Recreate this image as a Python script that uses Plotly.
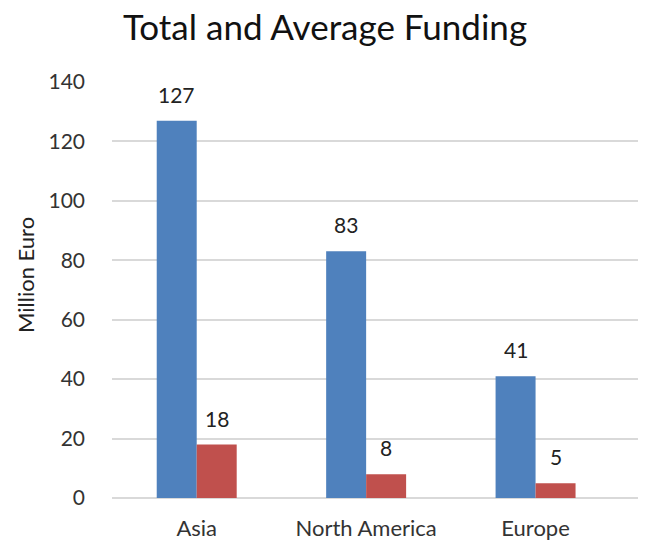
import plotly.graph_objects as go

categories = ["Asia", "North America", "Europe"]
total_funding = [127, 83, 41]
average_funding = [18, 8, 5]
y_ticks = [0, 20, 40, 60, 80, 100, 120, 140]

FONT = "Lato"
W, H = 646, 540
ML, MR, MT, MB = 104, 10, 74, 50

fig = go.Figure()
fig.add_trace(go.Bar(x=categories, y=total_funding, name="Total", marker_color="#4F81BD",
                     marker_line_width=0))
fig.add_trace(go.Bar(x=categories, y=average_funding, name="Average", marker_color="#C0504D",
                     marker_line_width=0))

annotations = []
for i, c in enumerate(categories):
    for j, vals in enumerate([total_funding, average_funding]):
        annotations.append(dict(x=c, y=vals[i], xref="x", yref="y", text=str(vals[i]),
                                showarrow=False, yanchor="bottom", yshift=12,
                                xshift=(-20 if j == 0 else 20),
                                font=dict(family=FONT, size=21, color="#222")))
pw, ph = W - ML - MR, H - MT - MB
annotations.append(dict(x=(17 - ML) / pw, xref="paper", y=(H - MB - 267) / ph, yref="paper",
                        text="Million Euro", showarrow=False, textangle=-90,
                        xanchor="center", yanchor="middle",
                        font=dict(family=FONT, size=22, color="#222")))

fig.update_layout(
    width=W, height=H,
    margin=dict(l=ML, r=MR, t=MT, b=MB),
    paper_bgcolor="white", plot_bgcolor="white",
    showlegend=False,
    barmode="group", bargap=0.528, bargroupgap=0,
    title=dict(text="Total and Average Funding", x=317 / W, xanchor="center", xref="container",
               y=1 - 20 / H, yanchor="middle", font=dict(family=FONT, size=35, color="#111")),
    font=dict(family=FONT, size=21, color="#333"),
    annotations=annotations,
)

fig.update_xaxes(range=[-0.5, 2.64], showgrid=False, zeroline=False, showline=False,
                 ticks="", ticklabelstandoff=15, automargin=False,
                 tickfont=dict(size=22, color="#333"))
fig.update_yaxes(range=[0, 140], tickvals=y_ticks, showgrid=True, gridcolor="#D9D9D9",
                 gridwidth=1.5, zeroline=True, zerolinecolor="#D9D9D9", zerolinewidth=1.5,
                 ticklabelstandoff=26, automargin=False,
                 tickfont=dict(size=21, color="#333"))

fig.write_html("out.html")
